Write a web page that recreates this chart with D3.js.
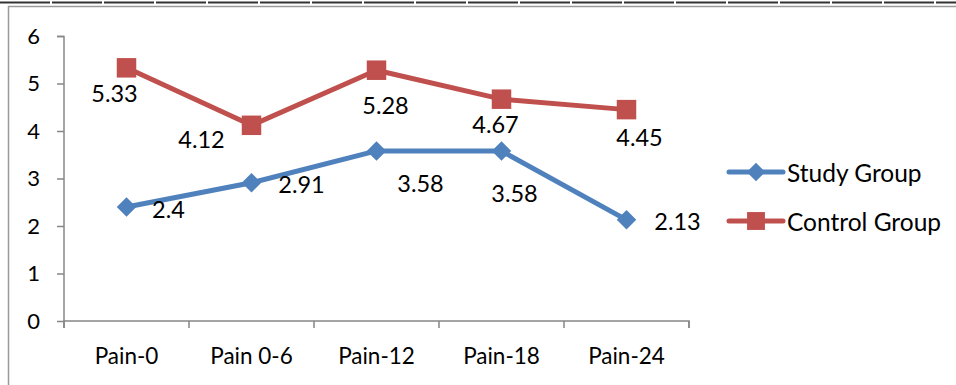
<!DOCTYPE html>
<html><head><meta charset="utf-8">
<script src="https://cdn.jsdelivr.net/npm/d3@7"></script>
<style>html,body{margin:0;padding:0;background:#fff;}svg{display:block;}</style>
</head><body>
<svg id="c" width="956" height="385"></svg>
<script>
const categories = ["Pain-0", "Pain 0-6", "Pain-12", "Pain-18", "Pain-24"];
const studyValues = [2.4, 2.91, 3.58, 3.58, 2.13];
const controlValues = [5.33, 4.12, 5.28, 4.67, 4.45];
const yTicks = [0, 1, 2, 3, 4, 5, 6];
const seriesNames = ["Study Group", "Control Group"];

// label offsets (style)
const studyLabelOffsets = [[42,2],[50,1],[44,32],[13,42],[51,1]];
const controlLabelOffsets = [[-12,25],[-50,14],[9,35],[-6,25],[13,27]];

const FONT = "Lato, 'Open Sans', sans-serif";
const svg = d3.select("#c");
const blue = "#4F81BD", red = "#C0504D", axisCol = "#868686";

// frame
svg.append("line").attr("x1",0).attr("x2",956).attr("y1",2.5).attr("y2",2.5)
  .attr("stroke","#333").attr("stroke-width",2).attr("stroke-dasharray","50,2");
svg.append("path").attr("d","M8.5,385 V6.5 H956").attr("fill","none").attr("stroke","#9a9a9a").attr("stroke-width",1.5);

const x = d3.scaleBand().domain(categories).range([64, 689]);
const y = d3.scaleLinear().domain([0, 6]).range([321, 36]);

// y axis
const yAxis = svg.append("g").attr("transform","translate(64,0)")
  .call(d3.axisLeft(y).tickValues(yTicks).tickSize(7).tickPadding(17).tickFormat(d3.format("d")));
yAxis.select(".domain").attr("stroke",axisCol).attr("stroke-width",1.5).attr("d","M-7,36.5H0V321");
yAxis.selectAll(".tick line").attr("stroke",axisCol).attr("stroke-width",1.5);
yAxis.selectAll("text").attr("font-family",FONT).attr("font-size","22px").attr("fill","#000");

// x axis
const xAxis = svg.append("g").attr("transform","translate(0,321)")
  .call(d3.axisBottom(x).tickSize(0).tickPadding(27));
xAxis.select(".domain").attr("stroke",axisCol).attr("stroke-width",1.5).attr("d","M64,7V0H689V7");
xAxis.selectAll("text").attr("font-family",FONT).attr("font-size","22.5px").attr("fill","#000");
// boundary ticks
const bounds = categories.map(c => x(c)).concat([x.range()[1]]);
xAxis.selectAll(".bt").data(bounds).enter().append("line").attr("class","bt")
  .attr("x1",d=>d).attr("x2",d=>d).attr("y1",0).attr("y2",7)
  .attr("stroke",axisCol).attr("stroke-width",1.5);

const cx = c => x(c) + x.bandwidth()/2;
const line = d3.line().x(d => cx(d.c)).y(d => y(d.v));

function series(values, color, isDiamond, msize, offsets) {
  const data = values.map((v,i)=>({c:categories[i], v}));
  svg.append("path").datum(data).attr("d",line).attr("fill","none")
    .attr("stroke",color).attr("stroke-width",5).attr("stroke-linejoin","round");
  svg.selectAll(null).data(data).enter().append("path")
    .attr("d", d3.symbol().type(d3.symbolSquare).size(msize))
    .attr("transform", d => `translate(${cx(d.c)},${y(d.v)})` + (isDiamond?" rotate(45)":""))
    .attr("fill", color);
  svg.selectAll(null).data(data).enter().append("text")
    .attr("x",(d,i)=>cx(d.c)+offsets[i][0]).attr("y",(d,i)=>y(d.v)+offsets[i][1])
    .attr("text-anchor","middle").attr("dominant-baseline","central")
    .attr("font-family",FONT).attr("font-size","23.5px").attr("fill","#000")
    .text(d=>d.v);
}
series(controlValues, red, false, 380, controlLabelOffsets);
series(studyValues, blue, true, 190, studyLabelOffsets);

// legend
const leg = [{n:seriesNames[0], c:blue, d:true, y:172},{n:seriesNames[1], c:red, d:false, y:221}];
leg.forEach(l=>{
  svg.append("line").attr("x1",729).attr("x2",783).attr("y1",l.y).attr("y2",l.y)
    .attr("stroke",l.c).attr("stroke-width",5).attr("stroke-linecap","round");
  svg.append("path").attr("d", d3.symbol().type(d3.symbolSquare).size(l.d?170:320))
    .attr("transform",`translate(756,${l.y})`+(l.d?" rotate(45)":"")).attr("fill",l.c);
  svg.append("text").attr("x",787).attr("y",l.y).attr("dominant-baseline","central")
    .attr("font-family",FONT).attr("font-size","24.5px").attr("fill","#000").text(l.n);
});
</script>
</body></html>
